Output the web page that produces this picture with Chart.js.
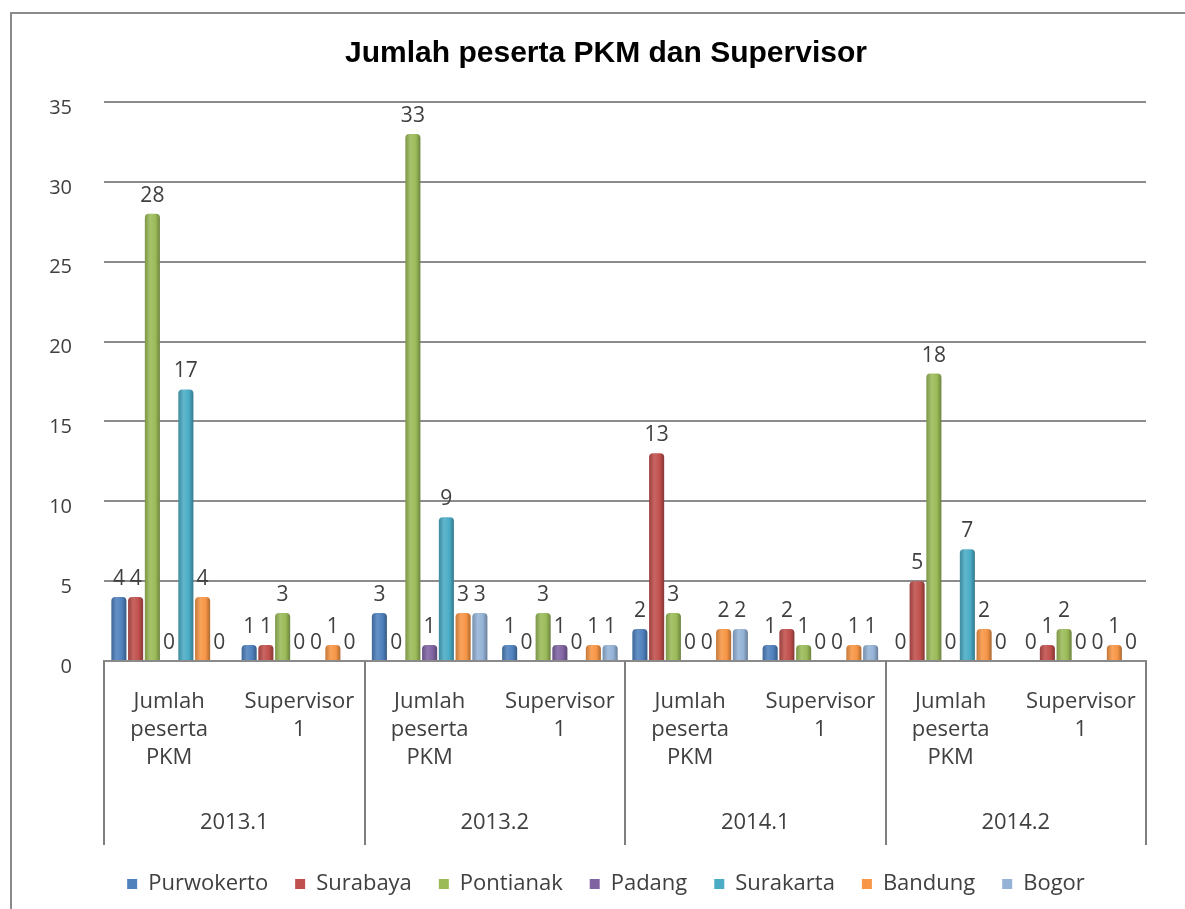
<!DOCTYPE html>
<html>
<head>
<meta charset="utf-8">
<title>Jumlah peserta PKM dan Supervisor</title>
<script src="https://cdn.jsdelivr.net/npm/chart.js@4.4.1/dist/chart.umd.min.js"></script>
<style>
  html, body { margin: 0; padding: 0; background: #fff; }
  #wrap { position: relative; width: 1185px; height: 909px; }
</style>
</head>
<body>
<div id="wrap"><canvas id="c" width="1185" height="909"></canvas></div>
<script>
// ── Data ─────────────────────────────────────────────────────
var categories = [
  ['Jumlah', 'peserta', 'PKM'], ['Supervisor', '1'],
  ['Jumlah', 'peserta', 'PKM'], ['Supervisor', '1'],
  ['Jumlah', 'peserta', 'PKM'], ['Supervisor', '1'],
  ['Jumlah', 'peserta', 'PKM'], ['Supervisor', '1']
];
var periods = ['2013.1', '2013.2', '2014.1', '2014.2'];

var purwokerto = [4, 1, 3, 1, 2, 1, 0, 0];
var surabaya   = [4, 1, 0, 0, 13, 2, 5, 1];
var pontianak  = [28, 3, 33, 3, 3, 1, 18, 2];
var padang     = [0, 0, 1, 1, 0, 0, 0, 0];
var surakarta  = [17, 0, 9, 0, 0, 0, 7, 0];
var bandung    = [4, 1, 3, 1, 2, 1, 2, 1];
var bogor      = [0, 0, 3, 1, 2, 1, 0, 0];

var yMax = 35, yStep = 5;

var TXT = '#404040';
var FONT = 'Open Sans';

// ── Helpers ──────────────────────────────────────────────────
function shade(hex, amt) {
  var n = parseInt(hex.slice(1), 16);
  var r = n >> 16, g = (n >> 8) & 255, b = n & 255;
  var t = amt < 0 ? 0 : 255, p = Math.abs(amt);
  r = Math.round(r + (t - r) * p); g = Math.round(g + (t - g) * p); b = Math.round(b + (t - b) * p);
  return 'rgb(' + r + ',' + g + ',' + b + ')';
}

function ds(label, data, color) {
  return {
    label: label, data: data, baseColor: color,
    backgroundColor: color, borderWidth: 0,
    borderRadius: { topLeft: 4, topRight: 4 }, borderSkipped: 'start',
    barPercentage: 0.9, categoryPercentage: 0.9
  };
}

// ── Plugins ──────────────────────────────────────────────────
// outer frame of the chart box
var framePlugin = {
  id: 'frame',
  beforeDraw: function(chart) {
    var ctx = chart.ctx;
    ctx.save();
    ctx.fillStyle = '#fff';
    ctx.fillRect(0, 0, chart.width, chart.height);
    ctx.strokeStyle = '#8a8a8a'; ctx.lineWidth = 2;
    ctx.strokeRect(11, 13, chart.width + 20, chart.height + 20);
    ctx.restore();
  }
};

// cylinder-like shading per bar
var cylinderPlugin = {
  id: 'cylinder',
  beforeDatasetsDraw: function(chart) {
    var ctx = chart.ctx;
    chart.data.datasets.forEach(function(d, di) {
      chart.getDatasetMeta(di).data.forEach(function(bar) {
        var w = bar.width, x0 = bar.x - w / 2;
        var g = ctx.createLinearGradient(x0, 0, x0 + w, 0);
        g.addColorStop(0, shade(d.baseColor, -0.2));
        g.addColorStop(0.35, shade(d.baseColor, 0.12));
        g.addColorStop(0.7, d.baseColor);
        g.addColorStop(1, shade(d.baseColor, -0.3));
        bar.options = Object.assign({}, bar.options, { backgroundColor: g });
      });
    });
  }
};

// value labels above each bar
var valueLabels = {
  id: 'valueLabels',
  afterDatasetsDraw: function(chart) {
    var ctx = chart.ctx;
    ctx.save();
    ctx.font = '21px "' + FONT + '"';
    ctx.fillStyle = TXT; ctx.textAlign = 'center'; ctx.textBaseline = 'alphabetic';
    chart.data.datasets.forEach(function(d, di) {
      chart.getDatasetMeta(di).data.forEach(function(bar, i) {
        ctx.fillText(String(d.data[i]), bar.x, bar.y - 12);
      });
    });
    ctx.restore();
  }
};

// category table lines under the plot
var tablePlugin = {
  id: 'catTable',
  afterDraw: function(chart) {
    var x2 = chart.scales.x2, ctx = chart.ctx;
    var top = chart.chartArea.bottom, bottom = x2.bottom - 1;
    var step = x2.width / periods.length;
    ctx.save();
    ctx.strokeStyle = '#7f7f7f'; ctx.lineWidth = 2;
    for (var k = 0; k <= periods.length; k++) {
      var px = Math.round(x2.left + k * step);
      ctx.beginPath(); ctx.moveTo(px, top); ctx.lineTo(px, bottom); ctx.stroke();
    }
    ctx.restore();
  }
};

// ── Chart ────────────────────────────────────────────────────
new Chart(document.getElementById('c'), {
  type: 'bar',
  data: {
    labels: categories,
    datasets: [
      ds('Purwokerto', purwokerto, '#4F81BD'),
      ds('Surabaya',   surabaya,   '#C0504D'),
      ds('Pontianak',  pontianak,  '#9BBB59'),
      ds('Padang',     padang,     '#8064A2'),
      ds('Surakarta',  surakarta,  '#4BACC6'),
      ds('Bandung',    bandung,    '#F79646'),
      ds('Bogor',      bogor,      '#95B3D7')
    ]
  },
  options: {
    responsive: false,
    animation: false,
    // right padding < 0 so title and legend centre on the (wider) frame
    layout: { padding: { top: 36, left: 10, right: -17, bottom: 4 } },
    plugins: {
      title: {
        display: true,
        text: 'Jumlah peserta PKM dan Supervisor',
        color: '#000',
        font: { family: 'Liberation Sans', size: 30, weight: 'bold' },
        padding: { top: 0, bottom: 30 }
      },
      legend: {
        position: 'bottom',
        labels: {
          color: TXT, boxWidth: 10, boxHeight: 10, padding: 27,
          font: { family: FONT, size: 22 }
        }
      },
      tooltip: { enabled: false }
    },
    scales: {
      x: {
        grid: { display: false },
        border: { display: true, color: '#8a8a8a', width: 2 },
        ticks: {
          color: TXT, padding: 19, maxRotation: 0, autoSkip: false,
          font: { family: FONT, size: 22, lineHeight: 1.27 }
        },
        afterFit: function(s) { s.height = 107; }
      },
      x2: {
        type: 'category',
        labels: periods,
        position: 'bottom',
        offset: true,
        grid: { display: false },
        border: { display: false },
        ticks: {
          color: TXT, padding: 33, maxRotation: 0,
          font: { family: FONT, size: 22, lineHeight: 1.27 }
        },
        afterFit: function(s) { s.height = 78; }
      },
      y: {
        min: 0, max: yMax,
        grid: { color: '#8c8c8c', lineWidth: 2, drawTicks: false },
        border: { display: false },
        ticks: {
          stepSize: yStep, color: TXT, padding: 32, labelOffset: 6,
          font: { family: FONT, size: 20 }
        },
        afterFit: function(s) { s.width = 94; }
      },
      y2: {
        position: 'right',
        grid: { display: false },
        border: { display: false },
        ticks: { display: false },
        afterFit: function(s) { s.width = 56; }
      }
    }
  },
  plugins: [framePlugin, cylinderPlugin, valueLabels, tablePlugin]
});
</script>
</body>
</html>
